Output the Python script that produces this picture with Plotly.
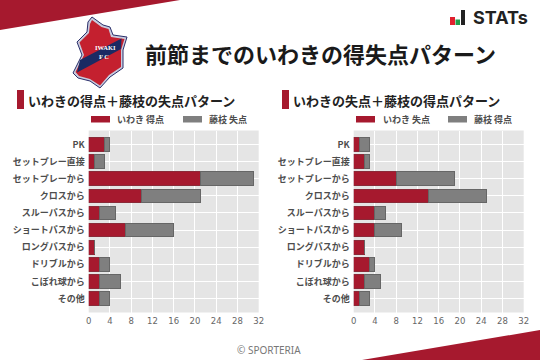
import plotly.graph_objects as go

categories = ["PK", "セットプレー直接", "セットプレーから", "クロスから", "スルーパスから",
              "ショートパスから", "ロングパスから", "ドリブルから", "こぼれ球から", "その他"]
left_iwaki = [3, 1, 21, 10, 2, 7, 1, 2, 2, 2]
left_fujieda = [1, 2, 10, 11, 3, 9, 0, 2, 4, 2]
right_iwaki = [1, 2, 8, 14, 4, 4, 2, 3, 2, 1]
right_fujieda = [2, 1, 11, 11, 2, 5, 0, 1, 3, 2]
x_ticks = [0, 4, 8, 12, 16, 20, 24, 28, 32]

W, H = 540, 360
RED = "#A6192E"
GREY = "#7F7F7F"
FONT = "Noto Sans CJK JP"
TXT = "#4D4D4D"


def px(x):
    return x / W


def py(y):
    return 1 - y / H


def path(points):
    return "M" + " L".join(f"{px(a):.5f},{py(b):.5f}" for a, b in points) + " Z"


fig = go.Figure()
panels = [("x", "y", left_iwaki, left_fujieda), ("x2", "y2", right_iwaki, right_fujieda)]
for xa, ya, a, b in panels:
    fig.add_bar(y=categories, x=a, orientation="h", xaxis=xa, yaxis=ya, width=0.8,
                marker=dict(color=RED, line=dict(color="#8A2A38", width=1)), showlegend=False)
    fig.add_bar(y=categories, x=b, orientation="h", xaxis=xa, yaxis=ya, width=0.8,
                marker=dict(color=GREY, line=dict(color="#666666", width=1)), showlegend=False)

axis_x = dict(range=[0, 32], tickvals=x_ticks, showgrid=True, gridcolor="white", gridwidth=1,
              zeroline=False, showline=False, ticks="", color="#666666", automargin=False,
              ticklabelstandoff=2,
              tickfont=dict(family="DejaVu Sans", size=8.5, color="#666666"))
axis_y = dict(type="category", categoryorder="array", categoryarray=categories,
              range=[9.82, -0.82], showgrid=True, gridcolor="white", gridwidth=1,
              showline=False, zeroline=False, ticks="", ticklabelstandoff=3, automargin=False,
              tickfont=dict(family=FONT, size=9, color=TXT, weight=700))

fig.update_layout(
    width=W, height=H, autosize=False, barmode="stack", bargap=0.2,
    margin=dict(l=0, r=0, t=0, b=0), paper_bgcolor="white", plot_bgcolor="#E5E5E5",
    xaxis=dict(axis_x, domain=[px(88.7), px(258.7)], anchor="y"),
    yaxis=dict(axis_y, domain=[py(312.5), py(130.5)], anchor="x"),
    xaxis2=dict(axis_x, domain=[px(353.7), px(523.7)], anchor="y2"),
    yaxis2=dict(axis_y, domain=[py(312.5), py(130.5)], anchor="x2"),
    font=dict(family=FONT),
)

shapes = []


def poly(points, color, line=None, lw=0):
    shapes.append(dict(type="path", xref="paper", yref="paper", path=path(points),
                       fillcolor=color, line=dict(color=line or color, width=lw), layer="below"))


# Corner wedges
poly([(0, 0), (180, 0), (0, 30)], RED)
poly([(540, 330), (540, 360), (362, 360)], RED)

# STATs mark
poly([(450, 17), (455, 17), (455, 25), (450, 25)], "#E0202E")
poly([(455.5, 19.5), (460, 19.5), (460, 25), (455.5, 25)], "#1E9E4A")
poly([(461, 10), (465, 10), (465, 25), (461, 25)], "#222222")

# Club crest
outline = [(92, 17), (103, 25), (110, 27), (113, 35), (127, 37), (123, 50), (123, 68), (110, 77),
           (100, 88), (90, 81), (78, 78), (73, 73), (82, 55), (77, 42), (87, 32), (88, 22)]
poly(outline, "#C8CBDD", "#2A2F6B", 1)
inner = [(92, 20), (101.5, 27), (108.5, 29), (111, 37), (124.5, 39), (121, 50), (121, 67), (109, 75),
         (100, 85.5), (90, 79), (79, 76), (75.5, 72), (84, 55), (79.5, 42.5), (89, 33), (90, 24)]
poly(inner, "#C4202F")
poly([(80, 60), (121.5, 38.5), (121, 49), (77, 72.5)], "#1B2A63")

# Section markers
poly([(17, 90), (24, 90), (24, 109), (17, 109)], RED)
poly([(282, 90), (289, 90), (289, 109), (282, 109)], RED)

# Legend swatches
poly([(91, 116), (110, 116), (110, 122.5), (91, 122.5)], RED)
poly([(183, 116), (202, 116), (202, 122.5), (183, 122.5)], GREY)
poly([(356, 116), (375, 116), (375, 122.5), (356, 122.5)], RED)
poly([(448, 116), (467, 116), (467, 122.5), (448, 122.5)], GREY)

fig.update_layout(shapes=shapes)


def label(x, y, text, size, color="#222222", weight=700, anchor="left", family=FONT):
    fig.add_annotation(xref="paper", yref="paper", x=px(x), y=py(y), text=text, showarrow=False,
                       xanchor=anchor, yanchor="middle", borderpad=0, borderwidth=0,
                       font=dict(family=family, size=size, color=color, weight=weight))


label(145, 53, "前節までのいわきの得失点パターン", 22, "#1A1A1A", 700)
label(28, 100, "いわきの得点＋藤枝の失点パターン", 13, "#222222", 700)
label(293, 100, "いわきの失点＋藤枝の得点パターン", 13, "#222222", 700)
label(117, 120, "いわき 得点", 9, TXT, 700)
label(209, 120, "藤枝 失点", 9, TXT, 700)
label(383, 120, "いわき 失点", 9, TXT, 700)
label(474, 120, "藤枝 得点", 9, TXT, 700)
label(473, 17.5, "STATs", 18, "#222222", 700, family="Inter")
label(269, 350, "© SPORTERIA", 10, "#777777", 400, "center", "Noto Sans")
label(105, 48, "IWAKI", 6.5, "white", 700, "center", "Liberation Serif")
label(104, 56, "F C", 6.5, "white", 700, "center", "Liberation Serif")

fig.write_html("out.html", config=dict(displayModeBar=False),
               post_script="document.body.style.margin='0';")
